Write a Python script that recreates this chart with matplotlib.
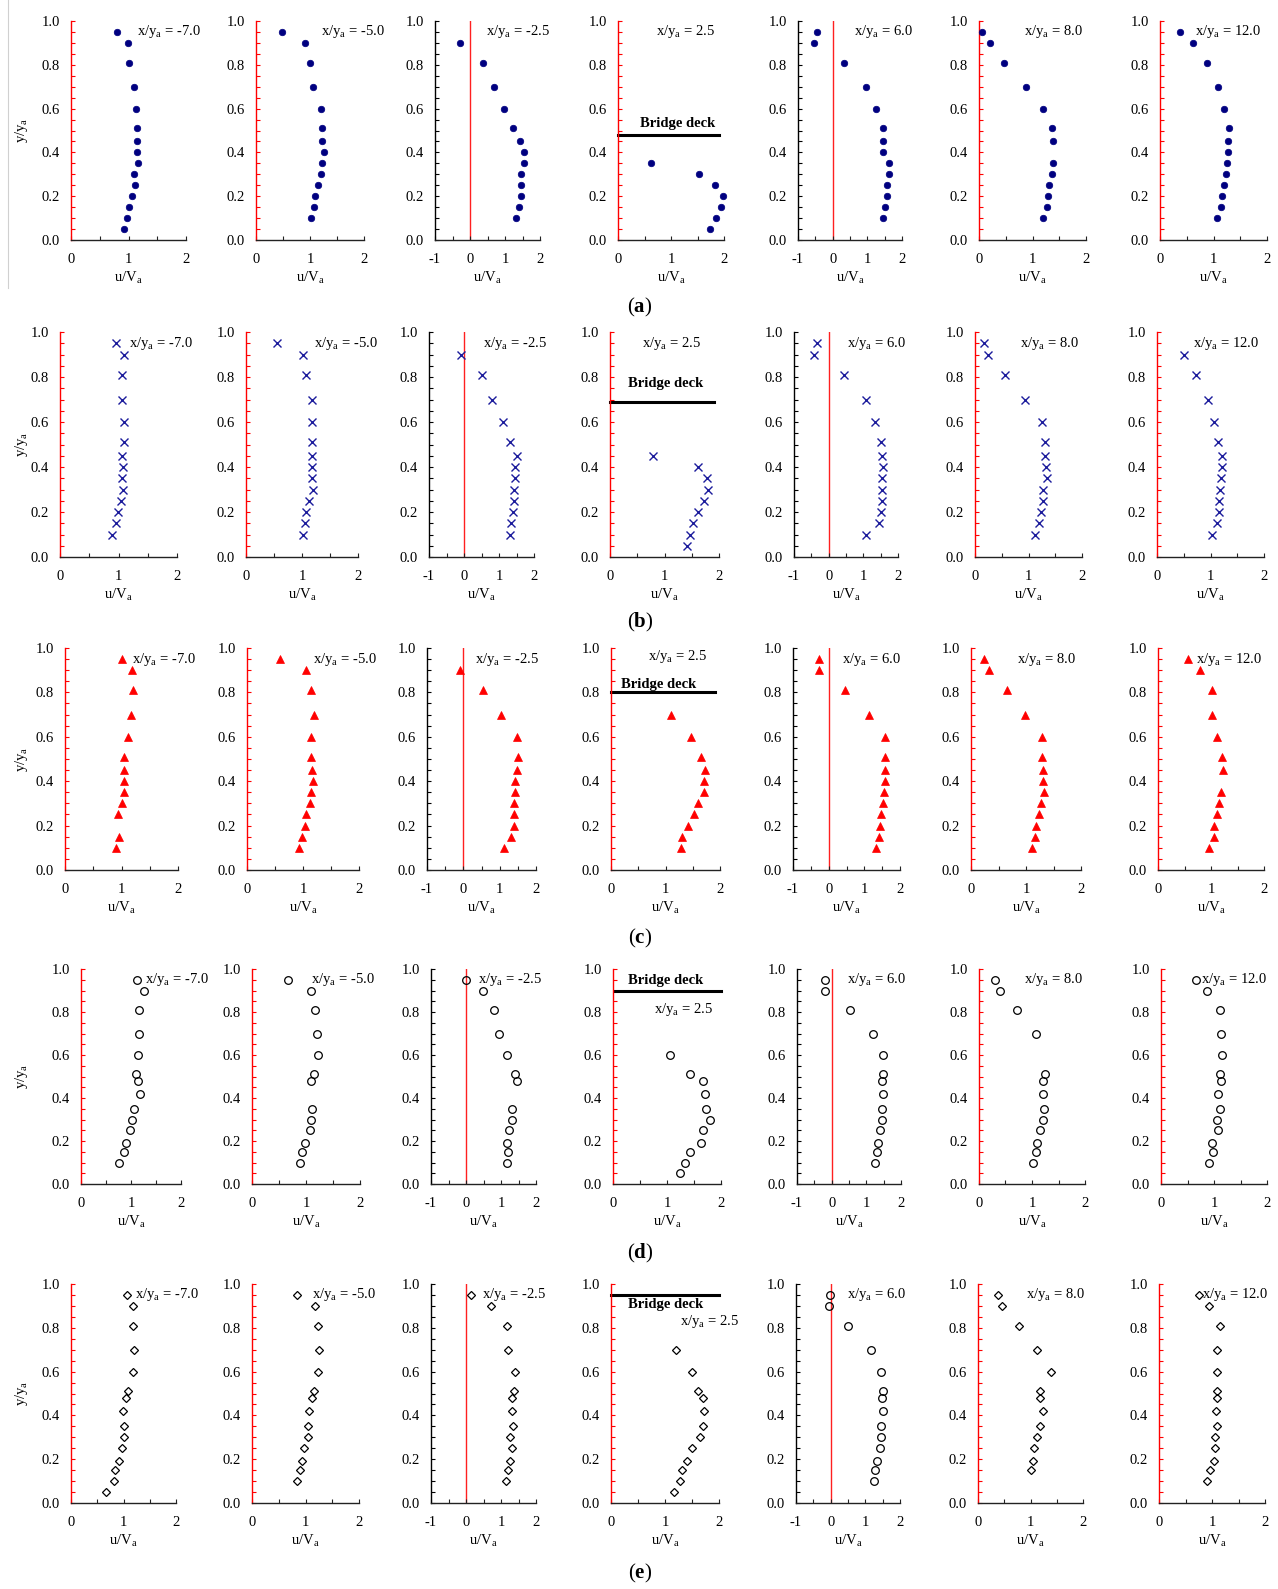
import matplotlib
matplotlib.use('Agg')
import matplotlib.pyplot as plt
from matplotlib.ticker import MultipleLocator, FormatStrFormatter
from matplotlib.lines import Line2D

plt.rcParams['font.family'] = 'Liberation Serif'
plt.rcParams['mathtext.fontset'] = 'custom'
plt.rcParams['mathtext.rm'] = 'Liberation Serif'
plt.rcParams['mathtext.it'] = 'Liberation Serif:italic'
plt.rcParams['mathtext.bf'] = 'Liberation Serif:bold'
plt.rcParams['axes.unicode_minus'] = False

# x/ya stations, one column per station
stations = ['-7.0', '-5.0', '-2.5', '2.5', '6.0', '8.0', '12.0']
row_tags = ['a', 'b', 'c', 'd', 'e']
deck_y = [0.48, 0.69, 0.80, 0.90, 0.95]

# ---- (a) ----
y_a = [
    [0.95, 0.90, 0.81, 0.70, 0.60, 0.51, 0.45, 0.40, 0.35, 0.30, 0.25, 0.20, 0.15, 0.10, 0.05],
    [0.95, 0.90, 0.81, 0.70, 0.60, 0.51, 0.45, 0.40, 0.35, 0.30, 0.25, 0.20, 0.15, 0.10],
    [0.90, 0.81, 0.70, 0.60, 0.51, 0.45, 0.40, 0.35, 0.30, 0.25, 0.20, 0.15, 0.10],
    [0.35, 0.30, 0.25, 0.20, 0.15, 0.10, 0.05],
    [0.95, 0.90, 0.81, 0.70, 0.60, 0.51, 0.45, 0.40, 0.35, 0.30, 0.25, 0.20, 0.15, 0.10],
    [0.95, 0.90, 0.81, 0.70, 0.60, 0.51, 0.45, 0.35, 0.30, 0.25, 0.20, 0.15, 0.10],
    [0.95, 0.90, 0.81, 0.70, 0.60, 0.51, 0.45, 0.40, 0.35, 0.30, 0.25, 0.20, 0.15, 0.10],
]
u_a = [
    [0.80, 0.99, 1.01, 1.10, 1.13, 1.14, 1.14, 1.14, 1.17, 1.10, 1.12, 1.06, 1.01, 0.97, 0.93],
    [0.48, 0.90, 1.00, 1.06, 1.20, 1.23, 1.23, 1.25, 1.23, 1.20, 1.14, 1.09, 1.08, 1.02],
    [-0.28, 0.36, 0.69, 0.98, 1.22, 1.43, 1.54, 1.54, 1.45, 1.46, 1.46, 1.40, 1.32],
    [0.63, 1.52, 1.83, 1.98, 1.95, 1.85, 1.74],
    [-0.46, -0.53, 0.33, 0.95, 1.26, 1.45, 1.46, 1.46, 1.63, 1.62, 1.58, 1.57, 1.51, 1.45],
    [0.05, 0.21, 0.47, 0.88, 1.19, 1.36, 1.39, 1.38, 1.36, 1.31, 1.29, 1.28, 1.20],
    [0.37, 0.62, 0.87, 1.09, 1.19, 1.29, 1.27, 1.27, 1.26, 1.23, 1.19, 1.16, 1.14, 1.07],
]

# ---- (b) ----
y_b = [
    [0.95, 0.90, 0.81, 0.70, 0.60, 0.51, 0.45, 0.40, 0.35, 0.30, 0.25, 0.20, 0.15, 0.10],
    [0.95, 0.90, 0.81, 0.70, 0.60, 0.51, 0.45, 0.40, 0.35, 0.30, 0.25, 0.20, 0.15, 0.10],
    [0.90, 0.81, 0.70, 0.60, 0.51, 0.45, 0.40, 0.35, 0.30, 0.25, 0.20, 0.15, 0.10],
    [0.45, 0.40, 0.35, 0.30, 0.25, 0.20, 0.15, 0.10, 0.05],
    [0.95, 0.90, 0.81, 0.70, 0.60, 0.51, 0.45, 0.40, 0.35, 0.30, 0.25, 0.20, 0.15, 0.10],
    [0.95, 0.90, 0.81, 0.70, 0.60, 0.51, 0.45, 0.40, 0.35, 0.30, 0.25, 0.20, 0.15, 0.10],
    [0.90, 0.81, 0.70, 0.60, 0.51, 0.45, 0.40, 0.35, 0.30, 0.25, 0.20, 0.15, 0.10],
]
u_b = [
    [0.95, 1.09, 1.06, 1.06, 1.09, 1.09, 1.06, 1.08, 1.06, 1.08, 1.04, 0.99, 0.95, 0.89],
    [0.56, 1.01, 1.08, 1.17, 1.17, 1.17, 1.17, 1.18, 1.17, 1.20, 1.12, 1.08, 1.05, 1.01],
    [-0.10, 0.51, 0.81, 1.10, 1.30, 1.50, 1.45, 1.45, 1.42, 1.42, 1.40, 1.35, 1.32],
    [0.79, 1.61, 1.78, 1.79, 1.73, 1.61, 1.53, 1.46, 1.41],
    [-0.33, -0.41, 0.44, 1.08, 1.34, 1.50, 1.54, 1.58, 1.55, 1.55, 1.53, 1.51, 1.46, 1.08],
    [0.16, 0.24, 0.56, 0.94, 1.25, 1.30, 1.31, 1.33, 1.34, 1.28, 1.27, 1.23, 1.20, 1.12],
    [0.50, 0.72, 0.96, 1.07, 1.14, 1.21, 1.21, 1.19, 1.17, 1.15, 1.15, 1.13, 1.02],
]

# ---- (c) ----
y_c = [
    [0.95, 0.90, 0.81, 0.70, 0.60, 0.51, 0.45, 0.40, 0.35, 0.30, 0.25, 0.15, 0.10],
    [0.95, 0.90, 0.81, 0.70, 0.60, 0.51, 0.45, 0.40, 0.35, 0.30, 0.25, 0.20, 0.15, 0.10],
    [0.90, 0.81, 0.70, 0.60, 0.51, 0.45, 0.40, 0.35, 0.30, 0.25, 0.20, 0.15, 0.10],
    [0.70, 0.60, 0.51, 0.45, 0.40, 0.35, 0.30, 0.25, 0.20, 0.15, 0.10],
    [0.95, 0.90, 0.81, 0.70, 0.60, 0.51, 0.45, 0.40, 0.35, 0.30, 0.25, 0.20, 0.15, 0.10],
    [0.95, 0.90, 0.81, 0.70, 0.60, 0.51, 0.45, 0.40, 0.35, 0.30, 0.25, 0.20, 0.15, 0.10],
    [0.95, 0.90, 0.81, 0.70, 0.60, 0.51, 0.45, 0.35, 0.30, 0.25, 0.20, 0.15, 0.10],
]
u_c = [
    [1.01, 1.18, 1.20, 1.16, 1.11, 1.05, 1.04, 1.04, 1.04, 1.00, 0.94, 0.96, 0.90],
    [0.59, 1.06, 1.14, 1.19, 1.14, 1.14, 1.16, 1.17, 1.14, 1.12, 1.06, 1.03, 0.98, 0.92],
    [-0.08, 0.55, 1.03, 1.49, 1.51, 1.47, 1.43, 1.43, 1.39, 1.39, 1.39, 1.30, 1.12],
    [1.10, 1.46, 1.66, 1.72, 1.70, 1.70, 1.60, 1.52, 1.42, 1.31, 1.28],
    [-0.26, -0.28, 0.47, 1.12, 1.59, 1.58, 1.58, 1.58, 1.54, 1.53, 1.47, 1.45, 1.40, 1.33],
    [0.24, 0.33, 0.66, 0.99, 1.29, 1.29, 1.30, 1.30, 1.33, 1.28, 1.24, 1.18, 1.17, 1.10],
    [0.56, 0.79, 1.02, 1.02, 1.11, 1.20, 1.22, 1.18, 1.15, 1.12, 1.06, 1.05, 0.97],
]

# ---- (d) ----
y_d = [
    [0.95, 0.90, 0.81, 0.70, 0.60, 0.51, 0.48, 0.42, 0.35, 0.30, 0.25, 0.19, 0.15, 0.10],
    [0.95, 0.90, 0.81, 0.70, 0.60, 0.51, 0.48, 0.35, 0.30, 0.25, 0.19, 0.15, 0.10],
    [0.95, 0.90, 0.81, 0.70, 0.60, 0.51, 0.48, 0.35, 0.30, 0.25, 0.19, 0.15, 0.10],
    [0.60, 0.51, 0.48, 0.42, 0.35, 0.30, 0.25, 0.19, 0.15, 0.10, 0.05],
    [0.95, 0.90, 0.81, 0.70, 0.60, 0.51, 0.48, 0.42, 0.35, 0.30, 0.25, 0.19, 0.15, 0.10],
    [0.95, 0.90, 0.81, 0.70, 0.51, 0.48, 0.42, 0.35, 0.30, 0.25, 0.19, 0.15, 0.10],
    [0.95, 0.90, 0.81, 0.70, 0.60, 0.51, 0.48, 0.42, 0.35, 0.30, 0.25, 0.19, 0.15, 0.10],
]
u_d = [
    [1.11, 1.26, 1.16, 1.16, 1.14, 1.10, 1.14, 1.17, 1.06, 1.01, 0.98, 0.89, 0.86, 0.76],
    [0.67, 1.10, 1.16, 1.21, 1.22, 1.14, 1.09, 1.11, 1.09, 1.07, 0.98, 0.93, 0.88],
    [0.01, 0.48, 0.79, 0.93, 1.18, 1.39, 1.45, 1.32, 1.31, 1.23, 1.17, 1.20, 1.16],
    [1.05, 1.43, 1.66, 1.70, 1.73, 1.80, 1.67, 1.63, 1.43, 1.33, 1.24],
    [-0.18, -0.18, 0.53, 1.19, 1.48, 1.48, 1.45, 1.48, 1.45, 1.44, 1.39, 1.35, 1.31, 1.25],
    [0.31, 0.39, 0.72, 1.07, 1.25, 1.20, 1.20, 1.23, 1.20, 1.16, 1.09, 1.08, 1.01],
    [0.66, 0.87, 1.11, 1.13, 1.15, 1.11, 1.13, 1.08, 1.11, 1.05, 1.07, 0.97, 0.98, 0.91],
]

# ---- (e) ----
y_e = [
    [0.95, 0.90, 0.81, 0.70, 0.60, 0.51, 0.48, 0.42, 0.35, 0.30, 0.25, 0.19, 0.15, 0.10, 0.05],
    [0.95, 0.90, 0.81, 0.70, 0.60, 0.51, 0.48, 0.42, 0.35, 0.30, 0.25, 0.19, 0.15, 0.10],
    [0.95, 0.90, 0.81, 0.70, 0.60, 0.51, 0.48, 0.42, 0.35, 0.30, 0.25, 0.19, 0.15, 0.10],
    [0.70, 0.60, 0.51, 0.48, 0.42, 0.35, 0.30, 0.25, 0.19, 0.15, 0.10, 0.05],
    [0.95, 0.90, 0.81, 0.70, 0.60, 0.51, 0.48, 0.42, 0.35, 0.30, 0.25, 0.19, 0.15, 0.10],
    [0.95, 0.90, 0.81, 0.70, 0.60, 0.51, 0.48, 0.42, 0.35, 0.30, 0.25, 0.19, 0.15],
    [0.95, 0.90, 0.81, 0.70, 0.60, 0.51, 0.48, 0.42, 0.35, 0.30, 0.25, 0.19, 0.15, 0.10],
]
u_e = [
    [1.06, 1.19, 1.19, 1.20, 1.19, 1.09, 1.04, 0.99, 1.00, 1.00, 0.97, 0.92, 0.84, 0.81, 0.66],
    [0.84, 1.18, 1.24, 1.26, 1.24, 1.15, 1.13, 1.06, 1.05, 1.05, 0.97, 0.94, 0.90, 0.84],
    [0.13, 0.72, 1.16, 1.20, 1.40, 1.38, 1.32, 1.30, 1.33, 1.26, 1.30, 1.26, 1.20, 1.14],
    [1.20, 1.50, 1.61, 1.70, 1.73, 1.71, 1.65, 1.50, 1.41, 1.31, 1.27, 1.17],
    [-0.03, -0.05, 0.49, 1.15, 1.45, 1.52, 1.49, 1.52, 1.45, 1.45, 1.43, 1.35, 1.29, 1.24],
    [0.39, 0.46, 0.79, 1.12, 1.39, 1.19, 1.19, 1.23, 1.19, 1.13, 1.06, 1.05, 1.00],
    [0.75, 0.95, 1.16, 1.09, 1.09, 1.09, 1.09, 1.08, 1.09, 1.05, 1.05, 1.03, 0.97, 0.91],
]

all_y = [y_a, y_b, y_c, y_d, y_e]
all_u = [u_a, u_b, u_c, u_d, u_e]

# ---- styles ----
row_style = [
    dict(marker='o', color='#000080', mfc='#000080', ms=4.7, mew=0),
    dict(marker='x', color='#1c1c9c', mfc='none', ms=5.5, mew=1.0),
    dict(marker='^', color='#ff0000', mfc='#ff0000', ms=5.5, mew=0),
    dict(marker='o', color='black', mfc='none', ms=5.5, mew=0.9),
    dict(marker='D', color='black', mfc='none', ms=4.3, mew=0.9),
]
row_e_markers = ['D', 'D', 'D', 'D', 'o', 'D', 'D']

# ---- layout in pixels ----
W, H = 1278, 1589
row_top = [21, 332, 648, 969, 1284]
row_bot = [240, 557, 870, 1184, 1503]
col_x = [
    [(71, 186), (256, 364), (435, 540), (618, 724), (798, 902), (979, 1086), (1160, 1267)],
    [(60, 177), (246, 358), (429, 534), (610, 719), (794, 898), (975, 1082), (1157, 1264)],
    [(65, 178), (247, 359), (427, 536), (611, 720), (793, 900), (971, 1081), (1158, 1264)],
    [(81, 181), (252, 360), (431, 536), (613, 721), (797, 901), (979, 1085), (1161, 1267)],
    [(71, 176), (252, 359), (431, 536), (611, 719), (796, 900), (978, 1083), (1159, 1265)],
]
txt_x = [
    [0.57, 0.60, 0.49, 0.36, 0.54, 0.42, 0.33],
    [0.59, 0.61, 0.51, 0.29, 0.51, 0.42, 0.34],
    [0.59, 0.59, 0.44, 0.34, 0.46, 0.42, 0.36],
    [0.64, 0.55, 0.45, 0.38, 0.48, 0.42, 0.38],
    [0.61, 0.56, 0.49, 0.64, 0.49, 0.46, 0.41],
]
txt4_y = [0.95, 0.95, 0.96, 0.81, 0.83]
deck_txt = [(1.13, 0.53), (1.02, 0.77), (0.87, 0.835), (0.97, 0.946), (1.02, 0.908)]
deck_x = [(0, 1.9), (0, 1.9), (0, 1.9), (0.03, 2.0), (0, 2.0)]
neg_cols = [2, 4]

FS = 10.5
fig = plt.figure(figsize=(W / 100, H / 100), dpi=100)

for r in range(5):
    for c in range(7):
        x0, x1 = col_x[r][c]
        ax = fig.add_axes([x0 / W, 1 - row_bot[r] / H, (x1 - x0) / W, (row_bot[r] - row_top[r]) / H])
        st = dict(row_style[r])
        if r == 4:
            st['marker'] = row_e_markers[c]
            if row_e_markers[c] == 'o':
                st['ms'] = 5.5
        ax.plot(all_u[r][c], all_y[r][c], linestyle='none', marker=st['marker'],
                color=st['color'], mfc=st['mfc'], mec=st['color'], ms=st['ms'],
                mew=st['mew'] if st['mew'] else 0.5, clip_on=False, zorder=3)

        neg = c in neg_cols
        ax.set_xlim(-1 if neg else 0, 2)
        ax.set_ylim(0, 1)
        ax.spines['top'].set_visible(False)
        ax.spines['right'].set_visible(False)
        ax.spines['bottom'].set_color('#222222')
        ax.spines['bottom'].set_linewidth(1.0)
        ax.spines['left'].set_linewidth(1.0)
        if neg:
            ax.spines['left'].set_color('black')
            ax.axvline(0, color='#ff2020', lw=1.0, zorder=1)
            ycol = 'black'
        else:
            ax.spines['left'].set_color('#ff0000')
            ycol = '#ff0000'

        ax.yaxis.set_major_locator(MultipleLocator(0.2))
        ax.yaxis.set_minor_locator(MultipleLocator(0.05))
        ax.yaxis.set_major_formatter(FormatStrFormatter('%.1f'))
        ax.xaxis.set_major_locator(MultipleLocator(1))
        ax.xaxis.set_minor_locator(MultipleLocator(0.5))
        ax.xaxis.set_major_formatter(FormatStrFormatter('%d'))
        ax.tick_params(axis='y', which='both', direction='in', length=3, width=0.8,
                       color=ycol, labelsize=FS, pad=8)
        ax.tick_params(axis='x', which='both', direction='in', length=3, width=0.8,
                       color='#222222', labelsize=FS, pad=9.5)
        ax.set_xlabel('u/V$_{\\rm a}$', fontsize=FS, labelpad=3)

        if c == 0:
            yc = 1 - (row_top[r] + row_bot[r]) / 2 / H
            fig.text(21 / W, yc, 'y/y$_{\\rm a}$', rotation=90, ha='center', va='center', fontsize=FS)

        ty = txt4_y[r] if c == 3 else 0.95
        ax.text(txt_x[r][c], ty, 'x/y$_{\\rm a}$ = ' + stations[c], transform=ax.transAxes,
                ha='left', va='center', fontsize=FS, clip_on=False)

        if c == 3:
            ax.plot(deck_x[r], [deck_y[r], deck_y[r]], color='black', lw=2.2, clip_on=False, zorder=2)
            ax.text(deck_txt[r][0], deck_txt[r][1], 'Bridge deck', ha='center', va='center',
                    fontsize=FS, fontweight='bold')

label_y = [307, 622, 938, 1253, 1573]
for r in range(5):
    fig.text(640 / W, 1 - label_y[r] / H, '($\\mathbf{' + row_tags[r] + '}$)',
             ha='center', va='center', fontsize=15)

fig.add_artist(Line2D([8 / W, 8 / W], [1, 1 - 288 / H], color='#d0d0d0', lw=0.8))

fig.savefig('out.png', dpi=100)
